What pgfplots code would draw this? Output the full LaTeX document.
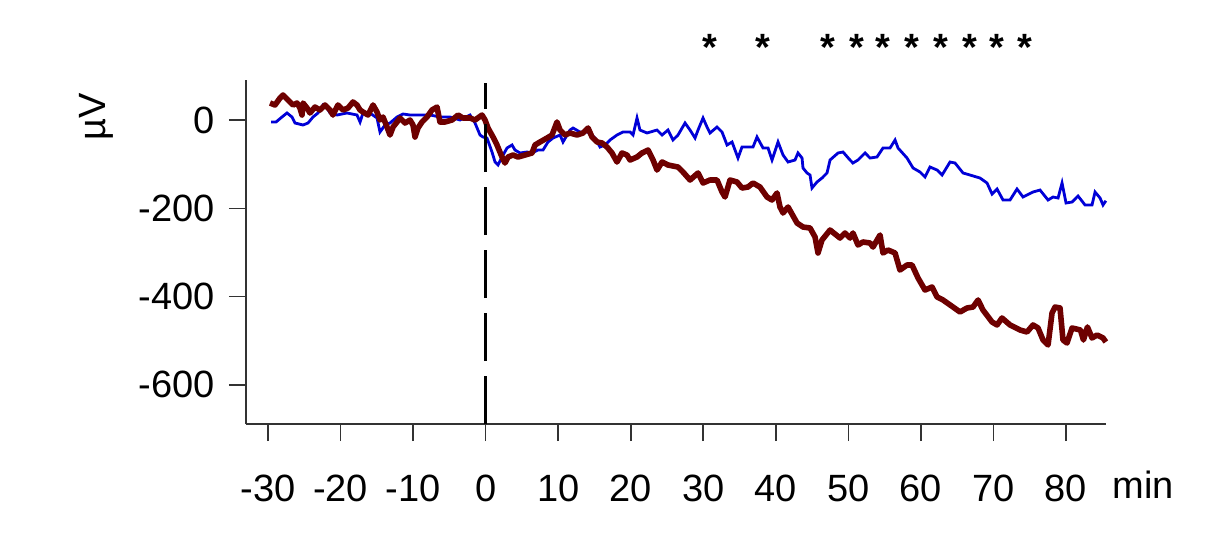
\documentclass[border=0pt]{standalone}
\usepackage{fontspec}
\setmainfont{Liberation Sans}
\usepackage{pgfplots}
\pgfplotsset{compat=1.18}
\definecolor{myblue}{RGB}{0,0,215}
\definecolor{myred}{RGB}{110,0,0}
\begin{document}
\begin{tikzpicture}
\path[use as bounding box] (-123pt,-67.5pt) rectangle (483.5pt,212pt);
\begin{axis}[
 at={(0,0)}, anchor=south west,
 scale only axis, width=430pt, height=172pt,
 xmin=-33.03, xmax=85.52, ymin=-688.6, ymax=90.6,
 axis lines=left, axis line style={-, line width=0.8pt, black!80},
 xtick={-30,-20,-10,0,10,20,30,40,50,60,70,80},
 xticklabels={-30,-20,-10,0,10,20,30,40,50,60,70,80},
 ytick={-600,-400,-200,0}, yticklabels={-600,-400,-200,0},
 tick align=outside, major tick length=8.5pt,
 tick style={line width=0.8pt, black!80},
 ticklabel style={font=\fontsize{19}{22}\selectfont},
 xticklabel style={anchor=base, yshift=-30pt},
 yticklabel style={anchor=east, xshift=-3.5pt},
 clip=false,
]
\addplot[myblue, line width=1.4pt] coordinates {
(-29.58,-4.5) (-28.89,-4.5) (-28.07,6.8) (-27.38,15.9) (-26.69,6.8) (-26.27,-6.8) (-25.17,-11.3) (-24.48,-6.8)
(-23.79,6.8) (-23.10,15.9) (-22.41,34.0) (-21.86,27.2) (-21.45,15.9) (-20.48,11.3) (-19.11,15.9) (-17.73,11.3)
(-17.31,-4.5) (-16.90,15.9) (-15.94,15.9) (-14.97,4.5) (-14.56,-27.2) (-13.87,-11.3) (-13.18,-6.8) (-12.21,6.8)
(-11.39,13.6) (-10.42,11.3) (-9.04,11.3) (-7.66,11.3) (-6.29,6.8) (-4.91,6.8) (-3.53,0) (-2.15,11.3)
(-1.46,-6.8) (-0.77,-34.0) (-0.36,-38.5) (0.19,-40.8) (0.88,-72.5) (1.30,-95.1) (1.71,-101.9) (2.26,-83.8)
(2.95,-63.4) (3.64,-56.6) (4.05,-68.0) (4.74,-74.7) (5.71,-72.5) (6.40,-74.7) (7.22,-68.0) (7.91,-68.0)
(8.60,-49.8) (9.29,-40.8) (10.26,-34.0) (10.67,-49.8) (11.63,-22.7) (12.05,-18.1) (13.01,-27.2) (13.98,-27.2)
(14.39,-29.4) (15.08,-40.8) (15.77,-61.2) (16.46,-56.6) (17.15,-45.3) (18.11,-34.0) (18.94,-27.2) (19.91,-27.2)
(20.32,-34.0) (20.87,4.5) (21.28,-22.7) (22.25,-29.4) (23.63,-22.7) (24.32,-34.0) (25.14,-22.7) (25.83,-45.3)
(26.52,-34.0) (27.49,-6.8) (28.18,-22.7) (28.87,-40.8) (29.28,-22.7) (29.97,4.5) (30.52,-15.9) (30.93,-29.4)
(31.90,-15.9) (32.59,-27.2) (33.28,-56.6) (33.97,-49.8) (34.79,-86.1) (35.34,-61.2) (36.86,-61.2) (37.41,-38.5)
(38.24,-63.4) (38.93,-63.4) (39.48,-90.6) (40.31,-49.8) (41.00,-79.3) (41.69,-95.1) (42.65,-90.6) (43.06,-74.7)
(43.62,-86.1) (43.75,-108.7) (44.31,-120.0) (44.72,-124.6) (44.99,-154.0) (45.68,-140.4) (46.37,-131.4) (47.06,-120.0)
(47.48,-90.6) (48.58,-74.7) (49.27,-72.5) (50.23,-90.6) (50.64,-97.4) (51.33,-90.6) (52.30,-74.7) (52.99,-86.1)
(53.95,-83.8) (54.78,-63.4) (55.75,-63.4) (56.44,-45.3) (56.85,-63.4) (58.09,-86.1) (58.92,-108.7) (59.88,-117.8)
(60.57,-129.1) (61.26,-106.5) (62.23,-113.3) (62.92,-124.6) (64.02,-95.1) (64.71,-97.4) (65.81,-120.0) (66.77,-124.6)
(68.15,-131.4) (69.12,-142.7) (69.81,-167.6) (70.50,-156.3) (71.32,-181.2) (72.29,-181.2) (73.25,-156.3) (74.08,-174.4)
(75.46,-163.1) (76.42,-158.6) (77.53,-181.2) (78.22,-174.4) (78.91,-176.7) (79.46,-142.7) (80.01,-188.0) (80.84,-185.7)
(81.66,-172.1) (82.63,-192.5) (83.59,-192.5) (84.01,-163.1) (84.70,-176.7) (85.11,-192.5) (85.50,-183.0)
};
\addplot[myred, line width=2.8pt, line join=round] coordinates {
(-29.72,38.5) (-29.03,34.0) (-28.34,49.8) (-27.93,56.6) (-27.24,45.3) (-26.55,34.0) (-26.00,38.5) (-25.59,27.2)
(-25.31,11.3) (-25.17,38.5) (-24.62,27.2) (-24.21,15.9) (-23.52,29.4) (-22.83,22.7) (-22.14,34.0) (-21.45,22.7)
(-21.04,11.3) (-20.35,34.0) (-19.66,22.7) (-18.97,27.2) (-18.28,40.8) (-17.73,34.0) (-17.31,22.7) (-16.90,18.1)
(-16.21,11.3) (-15.52,34.0) (-14.97,18.1) (-14.56,0) (-14.14,6.8) (-13.59,-15.9) (-13.18,-34.0) (-12.76,-15.9)
(-12.21,-4.5) (-11.80,4.5) (-11.11,-6.8) (-10.42,0) (-10.01,-11.3) (-9.73,-38.5) (-9.32,-18.1) (-8.77,-4.5)
(-8.08,6.8) (-7.39,22.7) (-6.70,29.4) (-6.29,-4.5) (-5.60,-4.5) (-4.63,0) (-3.80,11.3) (-3.12,4.5)
(-2.15,4.5) (-1.46,0) (-0.50,11.3) (-0.08,0) (0.33,-18.1) (1.02,-38.5) (1.57,-56.6) (2.26,-83.8)
(2.67,-97.4) (3.09,-83.8) (3.78,-79.3) (4.47,-83.8) (5.43,-79.3) (6.40,-74.7) (6.81,-56.6) (7.50,-49.8)
(8.46,-40.8) (9.15,-34.0) (9.84,-4.5) (10.26,-22.7) (10.94,-34.0) (11.63,-29.4) (12.60,-34.0) (13.43,-29.4)
(14.12,-18.1) (14.67,-38.5) (15.36,-49.8) (16.05,-52.1) (16.74,-61.2) (17.42,-74.7) (18.11,-95.1) (18.80,-74.7)
(19.49,-79.3) (19.91,-90.6) (20.87,-83.8) (21.56,-74.7) (22.39,-68.0) (23.08,-90.6) (23.63,-113.3) (24.32,-95.1)
(25.14,-101.9) (26.52,-106.5) (27.21,-117.8) (28.18,-135.9) (29.28,-120.0) (29.97,-142.7) (30.93,-135.9) (31.90,-135.9)
(32.59,-163.1) (33.00,-174.4) (33.69,-135.9) (34.65,-140.4) (35.34,-154.0) (36.17,-151.8) (36.86,-142.7) (37.82,-151.8)
(38.79,-174.4) (39.48,-181.2) (40.17,-165.3) (40.58,-197.1) (41.00,-210.6) (41.69,-197.1) (42.93,-233.3) (43.75,-242.4)
(44.72,-244.6) (45.41,-265.0) (45.82,-301.2) (46.37,-271.8) (47.48,-249.2) (48.85,-267.3) (49.54,-256.0) (50.23,-267.3)
(50.64,-256.0) (51.33,-283.1) (52.02,-276.3) (52.99,-278.6) (53.40,-287.7) (54.37,-260.5) (54.78,-301.2) (55.47,-294.5)
(56.44,-301.2) (57.12,-339.8) (58.09,-328.4) (58.78,-328.4) (59.61,-357.9) (60.57,-385.1) (61.54,-378.3) (62.23,-400.9)
(63.05,-407.7) (64.43,-423.6) (65.39,-434.9) (66.36,-425.8) (67.19,-423.6) (67.88,-407.7) (68.56,-430.4) (69.81,-457.5)
(70.50,-464.3) (71.18,-448.5) (72.29,-464.3) (73.67,-475.7) (74.63,-480.2) (75.46,-464.3) (76.15,-471.1) (76.84,-498.3)
(77.53,-509.6) (78.08,-437.2) (78.49,-423.6) (79.18,-425.8) (79.59,-498.3) (80.14,-505.1) (80.84,-471.1) (82.00,-475.7)
(82.41,-498.3) (82.96,-468.8) (83.59,-493.7) (84.30,-487.0) (85.11,-493.7) (85.50,-502.8)
};
\addplot[black, line width=1.5pt, dash pattern=on 24pt off 7.5pt] coordinates {(0,-688.6) (0,84)};
\addplot[black, only marks, mark=text, text mark={\fontsize{19}{22}\selectfont\bfseries *}] coordinates {
(30.9,165) (38.2,165) (47.2,165) (51.2,165) (54.7,165) (58.75,165) (62.75,165) (66.75,165) (70.5,165) (74.3,165)
};
\end{axis}
\node[rotate=90, font=\fontsize{19}{22}\selectfont] at (-75pt,153.5pt) {µV};
\node[anchor=base, font=\fontsize{19}{22}\selectfont] at (448.5pt,-37pt) {min};
\end{tikzpicture}
\end{document}
